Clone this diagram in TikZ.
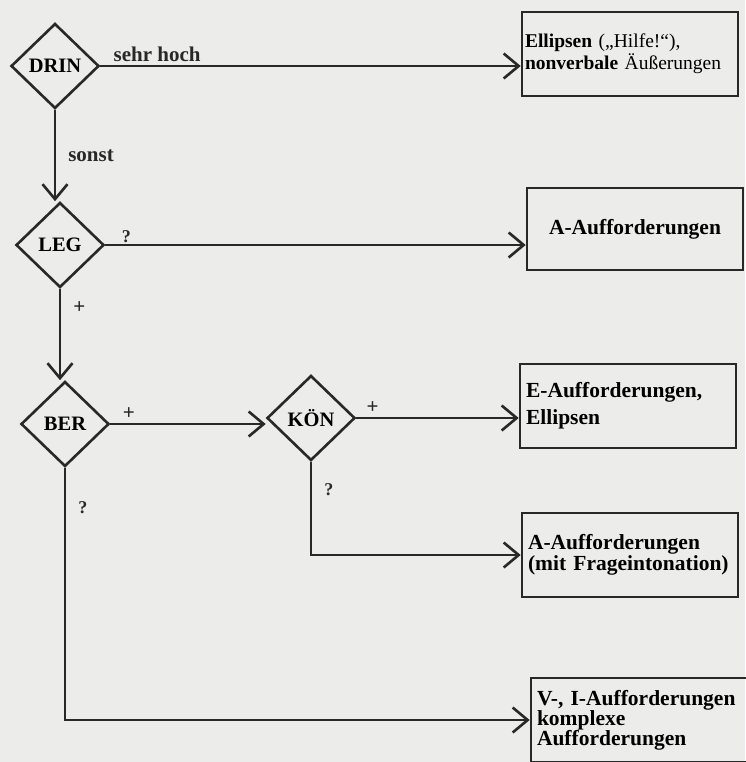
\documentclass[tikz,border=0pt]{standalone}
\usepackage{fontspec}
\setmainfont{Liberation Serif}
\usetikzlibrary{arrows.meta,shapes.geometric}

\definecolor{paper}{RGB}{236,236,234}
\definecolor{ink}{RGB}{40,40,40}

\tikzset{
    decision/.style={diamond, draw=ink, line width=2.6pt, minimum width=88pt, minimum height=85pt, inner sep=0pt, font=\fontsize{20.5}{22}\selectfont\bfseries},
    result/.style={draw=ink, line width=2.6pt, minimum height=84pt, text width=204pt, inner xsep=6pt, align=left, font=\fontsize{21.5}{21}\selectfont\bfseries},
    flow/.style={draw=ink, line width=2.6pt, -{Straight Barb[length=15pt,width=25pt,line width=2.6pt]}},
    lbl/.style={text=ink, font=\fontsize{21}{22}\selectfont\bfseries}
}

\begin{document}
\begin{tikzpicture}[x=1pt, y=-1pt]
            \fill[paper] (0,0) rectangle (745,762);
            \useasboundingbox (0,0) rectangle (745,762);
            % decisions
            \node[decision] (drin) at (55,66) {DRIN};
            \node[decision] (leg) at (60,245) {LEG};
            \node[decision] (ber) at (65,424) {BER};
            \node[decision] (koen) at (311,418) {KÖN};
            % results
            \node[result, text width=210pt, inner xsep=3pt, font=\fontsize{19.5}{22}\selectfont\bfseries] (ellipsen) at (630,54) {Ellipsen {\mdseries(„Hilfe!“),}\\nonverbale {\mdseries Äußerungen}};
            \node[result, align=center, minimum height=82pt] (aauff) at (635,229) {A-Aufforderungen};
            \node[result, font=\fontsize{21.5}{27}\selectfont\bfseries] (eauff) at (628,406) {E-Aufforderungen,\\Ellipsen};
            \node[result] (frage) at (630,555) {A-Aufforderungen\\(mit Frageintonation)};
            \node[result, text width=214pt, inner ysep=3pt, font=\fontsize{21.5}{20}\selectfont\bfseries] (vauff) at (644,720) {V-, I-Aufforderungen\\komplexe\\Aufforderungen};
            % connectors
            \draw[flow] (drin.east) -- node[lbl, pos=0, above right, inner xsep=12pt] {sehr hoch} (drin -| ellipsen.west);
            \draw[flow] (drin.south) -- node[lbl, right, inner xsep=12pt] {sonst} (drin.south |- leg.north);
            \draw[flow] (leg.east) -- node[lbl, pos=0.05, above, inner ysep=1pt, font=\fontsize{18}{20}\selectfont\bfseries] {?} (leg -| aauff.west);
            \draw[flow] (leg.south) -- node[lbl, pos=0.2, right, inner xsep=12pt] {+} (leg.south |- ber.north);
            \draw[flow] (ber.east) -- node[lbl, pos=0.12, above] {+} (ber -| koen.west);
            \draw[flow] (koen.east) -- node[lbl, pos=0.1, above] {+} (koen -| eauff.west);
            \draw[flow] (koen.south) |- node[lbl, pos=0.15, right, inner xsep=12pt, font=\fontsize{18}{20}\selectfont\bfseries] {?} (frage.west);
            \draw[flow] (ber.south) |- node[lbl, pos=0.08, right, inner xsep=12pt, font=\fontsize{18}{20}\selectfont\bfseries] {?} (vauff.west);
        \end{tikzpicture}
\end{document}
